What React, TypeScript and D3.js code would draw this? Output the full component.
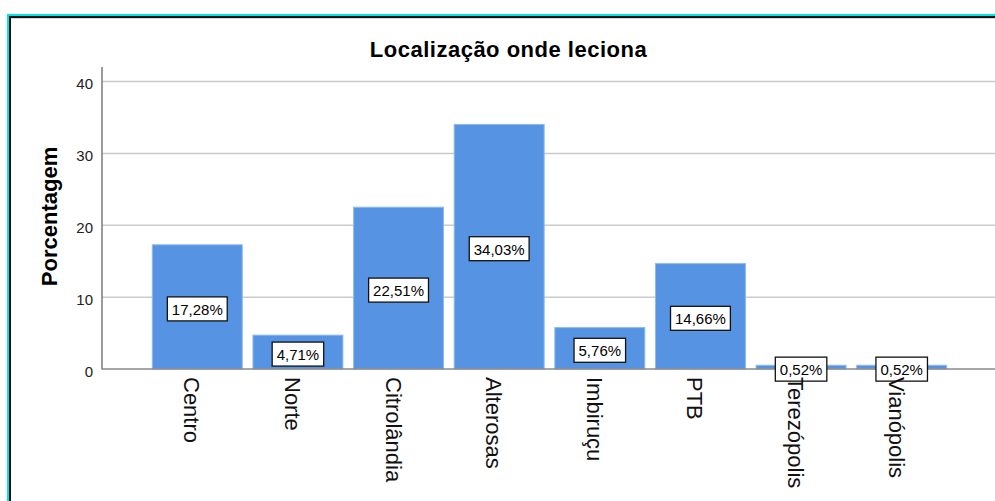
import React from "react";
import * as d3 from "d3";

const categories = ["Centro", "Norte", "Citrolândia", "Alterosas", "Imbiruçu", "PTB", "Terezópolis", "Vianópolis"];
const values = [17.28, 4.71, 22.51, 34.03, 5.76, 14.66, 0.52, 0.52];
const yTicks = [0, 10, 20, 30, 40];
const title = "Localização onde leciona";
const yLabel = "Porcentagem";

const W = 995;
const H = 501;
const FONT = "'Liberation Sans', Arial, Helvetica, sans-serif";

const fmt = (v: number) => v.toFixed(2).replace(".", ",") + "%";

export default function App() {
  const x = d3.scaleBand<string>().domain(categories).range([102, 997]).paddingInner(0.106).paddingOuter(0.5);
  const y = d3.scaleLinear().domain([0, 40]).range([369, 81.5]);
  const bw = x.bandwidth();
  const lblFont = 15;

  return (
    <svg width={W} height={H} style={{ position: "absolute", left: 0, top: 0, display: "block", background: "#fff" }} fontFamily={FONT}>
      <rect x={0} y={0} width={W} height={H} fill="#fff" />
      {/* frame */}
      <rect x={7} y={14} width={W} height={2.2} fill="#00e6e6" />
      <rect x={7} y={14} width={2.2} height={H} fill="#00e6e6" />
      <rect x={9} y={16} width={W} height={2} fill="#111" />
      <rect x={9} y={16} width={2} height={H} fill="#111" />
      <rect x={11} y={18} width={W} height={1} fill="#d8d8d8" />

      {/* title */}
      <text x={508.5} y={56.5} textAnchor="middle" fontSize={22} fontWeight="bold" letterSpacing={0.5} fill="#000">{title}</text>

      {/* gridlines */}
      {yTicks.filter(t => t > 0).map(t => (
        <line key={t} x1={102} x2={W} y1={y(t)} y2={y(t)} stroke="#cbcbcb" strokeWidth={1.5} />
      ))}

      {/* y tick labels */}
      {yTicks.map(t => (
        <text key={t} x={93} y={y(t) + 2} textAnchor="end" dominantBaseline="central" fontSize={15} fill="#222">{t}</text>
      ))}

      {/* y label */}
      <text transform={`translate(57,216.5) rotate(-90)`} textAnchor="middle" fontSize={22} fontWeight="bold" fill="#000">{yLabel}</text>

      {/* bars */}
      {categories.map((c, i) => (
        <rect key={c} x={x(c)!} y={y(values[i])} width={bw} height={y(0) - y(values[i])} fill="#5694e3" stroke="#8dbaee" strokeWidth={1} />
      ))}

      {/* axes */}
      <line x1={102} x2={102} y1={67} y2={369.5} stroke="#7a7a7a" strokeWidth={1.5} />
      <line x1={102} x2={W} y1={369} y2={369} stroke="#8a8a8a" strokeWidth={1.5} />

      {/* data labels */}
      {categories.map((c, i) => {
        const cx = x(c)! + bw / 2;
        const cy = (y(values[i]) + y(0)) / 2 + 2;
        const txt = fmt(values[i]);
        const tw = txt.replace(/[^0-9]/g, "").length * 0.556 * lblFont + 0.278 * lblFont + 0.889 * lblFont;
        const bwid = tw + 9;
        const bh = 24;
        return (
          <g key={c}>
            <rect x={cx - bwid / 2} y={cy - bh / 2} width={bwid} height={bh} fill="#fff" stroke="#111" strokeWidth={1.3} />
            <text x={cx} y={cy + 0.5} textAnchor="middle" dominantBaseline="central" fontSize={lblFont} fill="#000">{txt}</text>
          </g>
        );
      })}

      {/* x labels */}
      {categories.map(c => {
        const cx = x(c)! + bw / 2;
        return (
          <text key={c} transform={`translate(${cx - 13},377) rotate(90)`} textAnchor="start" fontSize={22} fill="#111">{c}</text>
        );
      })}
    </svg>
  );
}
